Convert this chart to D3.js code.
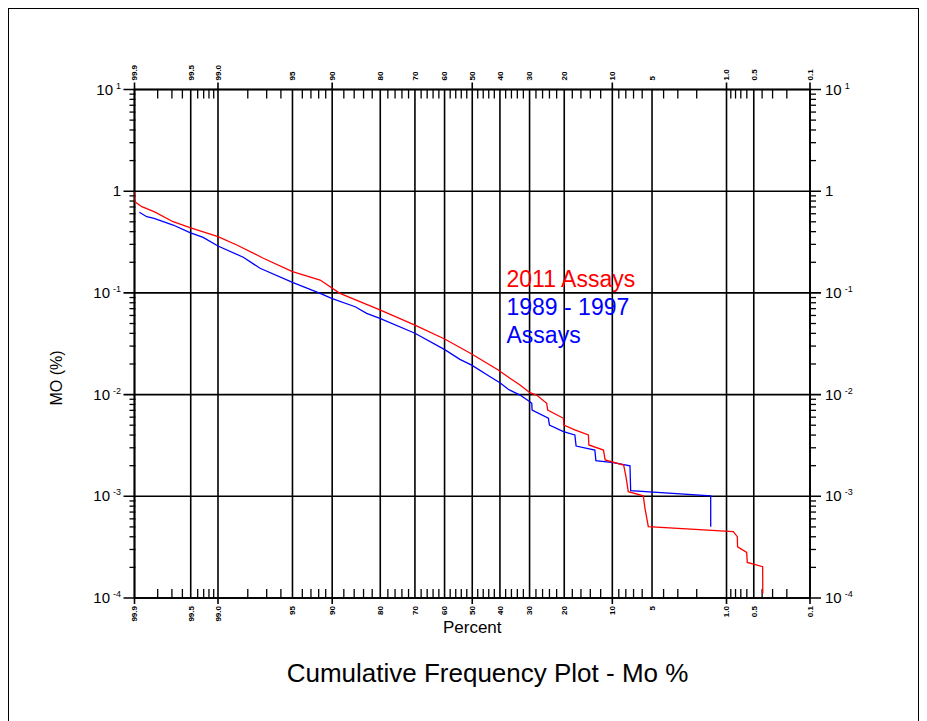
<!DOCTYPE html>
<html>
<head>
<meta charset="utf-8">
<script src="https://cdn.jsdelivr.net/npm/d3@7"></script>
<style>
  html, body { margin: 0; padding: 0; background: #fff; }
  svg { display: block; font-family: "Liberation Sans", Arial, sans-serif; }
</style>
</head>
<body>
<svg id="chart" width="927" height="721"></svg>
<script>
// Cumulative frequency (percent greater than) vs Mo grade, two assay campaigns
const redPct = [99.9, 99.9, 99.875, 99.82, 99.69, 99.51, 99.0, 98.44, 97.2, 95.0,
  91.8, 88.7, 80.1, 70.0, 59.8, 50.2, 40.6, 36.5, 33.1, 29.9,
  27.8, 24.8, 24.5, 20.2, 20.1, 17.4, 14.4, 14.3, 11.5, 11.2,
  8.3, 7.98, 7.67, 5.88, 5.7, 5.36, 0.846, 0.765, 0.76, 0.602,
  0.593, 0.394, 0.393];
const redMo = [0.99, 0.79, 0.704, 0.629, 0.501, 0.438, 0.357, 0.296, 0.219, 0.1616,
  0.1339, 0.099, 0.068, 0.0483, 0.035, 0.0251, 0.01746, 0.01446, 0.01243, 0.01044,
  0.0099, 0.00821, 0.00706, 0.00585, 0.00502, 0.00449, 0.00401, 0.00320, 0.00285, 0.00228,
  0.00203, 0.00156, 0.00111, 0.00101, 0.000762, 0.000502, 0.000449, 0.000401, 0.000319, 0.000281,
  0.000224, 0.000203, 0.000111];

const bluePct = [99.884, 99.855, 99.82, 99.69, 99.51, 99.31, 99.0, 98.19, 97.39, 95.0,
  91.8, 90.1, 85.8, 83.3, 80.1, 70.0, 59.8, 54.5, 50.2, 43.5,
  40.0, 37.1, 33.1, 29.9, 29.3, 29.2, 24.3, 24.0, 20.2, 17.4,
  17.1, 13.1, 12.9, 9.84, 7.45, 7.36, 1.457, 1.456];
const blueMo = [0.620, 0.561, 0.541, 0.465, 0.391, 0.352, 0.289, 0.224, 0.1746, 0.1271,
  0.099, 0.0885, 0.0731, 0.063, 0.0562, 0.0401, 0.0275, 0.0222, 0.0195, 0.0150,
  0.0131, 0.01127, 0.0099, 0.00852, 0.00821, 0.00706, 0.00585, 0.00502, 0.00432, 0.00401,
  0.00312, 0.00285, 0.00224, 0.00214, 0.00199, 0.001135, 0.00101, 0.000502];

const seriesNames = ["2011 Assays", "1989 - 1997", "Assays"];
const seriesColors = ["#ff0000", "#0000ff"];

// Probability axis labels and minor ticks (percent)
const pctMajor = ["99.9", "99.5", "99.0", "95", "90", "80", "70", "60", "50", "40", "30", "20", "10", "5", "1.0", "0.5", "0.1"];
const pctLong = ["99.9", "99.0", "90", "50", "10", "1.0", "0.1"];
const pctMinor = [99.8, 99.7, 99.6, 99.4, 99.3, 99.2, 99.1, 98, 97, 96, 94, 93, 92, 91,
  88, 86, 84, 82, 78, 76, 74, 72, 68, 66, 64, 62, 58, 56, 54, 52, 48, 46, 44, 42,
  38, 36, 34, 32, 28, 26, 24, 22, 18, 16, 14, 12, 9, 8, 7, 6, 4, 3, 2,
  0.9, 0.8, 0.7, 0.6, 0.4, 0.3, 0.2];
// Log axis decades: exponent labels
const decadeExp = [1, 0, -1, -2, -3, -4];

// Inverse standard normal CDF (Acklam)
function probit(p) {
  const a = [-3.969683028665376e+01, 2.209460984245205e+02, -2.759285104469687e+02, 1.383577518672690e+02, -3.066479806614716e+01, 2.506628277459239e+00];
  const b = [-5.447609879822406e+01, 1.615858368580409e+02, -1.556989798598866e+02, 6.680131188771972e+01, -1.328068155288572e+01];
  const c = [-7.784894002430293e-03, -3.223964580411365e-01, -2.400758277161838e+00, -2.549671651908070e+00, 4.374664141464968e+00, 2.938163982698783e+00];
  const d = [7.784695709041462e-03, 3.224671290700398e-01, 2.445134137142996e+00, 3.754408661907416e+00];
  const pl = 0.02425, ph = 1 - pl;
  let q, r;
  if (p < pl) {
    q = Math.sqrt(-2 * Math.log(p));
    return (((((c[0]*q+c[1])*q+c[2])*q+c[3])*q+c[4])*q+c[5]) / ((((d[0]*q+d[1])*q+d[2])*q+d[3])*q+1);
  }
  if (p <= ph) {
    q = p - 0.5; r = q * q;
    return (((((a[0]*r+a[1])*r+a[2])*r+a[3])*r+a[4])*r+a[5])*q / (((((b[0]*r+b[1])*r+b[2])*r+b[3])*r+b[4])*r+1);
  }
  q = Math.sqrt(-2 * Math.log(1 - p));
  return -(((((c[0]*q+c[1])*q+c[2])*q+c[3])*q+c[4])*q+c[5]) / ((((d[0]*q+d[1])*q+d[2])*q+d[3])*q+1);
}
const zOf = pct => probit(1 - pct / 100);

const L = 134.5, R = 810, T = 89.5, B = 598;
const zScale = d3.scaleLinear().domain([zOf(99.9), zOf(0.1)]).range([L, R]);
const x = pct => zScale(zOf(+pct));
const y = d3.scaleLog().domain([1e-4, 10]).range([B, T]);

const svg = d3.select("#chart");

// outer frame
svg.append("rect").attr("x", 8.5).attr("y", 8.5).attr("width", 910).attr("height", 740)
  .attr("fill", "none").attr("stroke", "#000").attr("stroke-width", 1);

const grid = svg.append("g").attr("stroke", "#000").attr("fill", "none");

// vertical probability lines
pctMajor.forEach(p => {
  const long = pctLong.includes(p);
  grid.append("line")
    .attr("x1", x(p)).attr("x2", x(p))
    .attr("y1", long ? T - 7 : T).attr("y2", long ? B + 6 : B)
    .attr("stroke-width", 1.6);
});
// minor probability ticks, inward from top and bottom
pctMinor.forEach(p => {
  grid.append("line").attr("x1", x(p)).attr("x2", x(p)).attr("y1", T).attr("y2", T + 9).attr("stroke-width", 1.3);
  grid.append("line").attr("x1", x(p)).attr("x2", x(p)).attr("y1", B).attr("y2", B - 9).attr("stroke-width", 1.3);
});

// horizontal decade lines
decadeExp.forEach(e => {
  grid.append("line")
    .attr("x1", L - 11).attr("x2", R + 11)
    .attr("y1", y(Math.pow(10, e))).attr("y2", y(Math.pow(10, e)))
    .attr("stroke-width", 1.6);
});
// minor log ticks, outward on both sides
const minorLog = [];
decadeExp.slice(1).forEach(e => { for (let k = 2; k <= 9; k++) minorLog.push(k * Math.pow(10, e)); });
minorLog.forEach(v => {
  grid.append("line").attr("x1", L - 5).attr("x2", L + 1).attr("y1", y(v)).attr("y2", y(v)).attr("stroke-width", 1.3);
  grid.append("line").attr("x1", R + 6).attr("x2", R - 1).attr("y1", y(v)).attr("y2", y(v)).attr("stroke-width", 1.3);
});

// plot frame
grid.append("rect").attr("x", L).attr("y", T).attr("width", R - L).attr("height", B - T)
  .attr("stroke-width", 1.8);

// probability labels (rotated)
const labelG = svg.append("g").attr("font-size", 8).attr("font-weight", "bold").attr("fill", "#000");
pctMajor.forEach(p => {
  labelG.append("text")
    .attr("transform", `translate(${x(p)},${T - 9}) rotate(-90)`)
    .attr("text-anchor", "start").attr("dy", "0.35em").text(p);
  labelG.append("text")
    .attr("transform", `translate(${x(p)},${B + 8}) rotate(-90)`)
    .attr("text-anchor", "end").attr("dy", "0.35em").text(p);
});

// decade labels
function decadeLabel(g, e, xPos, anchor) {
  const t = g.append("text").attr("x", xPos).attr("y", y(Math.pow(10, e)) + 5)
    .attr("text-anchor", anchor).attr("font-size", 15);
  if (e === 0) { t.text("1"); return; }
  t.append("tspan").text("10");
  t.append("tspan").attr("font-size", 9).attr("dx", 3).attr("dy", -6).text(e);
}
const yl = svg.append("g").attr("fill", "#000");
decadeExp.forEach(e => decadeLabel(yl, e, 121, "end"));
decadeExp.forEach(e => decadeLabel(yl, e, 825, "start"));

// axis titles
svg.append("text").attr("x", x("50")).attr("y", 633).attr("text-anchor", "middle")
  .attr("font-size", 17).text("Percent");
svg.append("text").attr("transform", "translate(62,378) rotate(-90)")
  .attr("text-anchor", "middle").attr("font-size", 16).text("MO (%)");
svg.append("text").attr("x", 487.5).attr("y", 682).attr("text-anchor", "middle")
  .attr("font-size", 26).text("Cumulative Frequency Plot - Mo %");

// data lines
const clip = svg.append("clipPath").attr("id", "plotClip").append("rect")
  .attr("x", L).attr("y", T).attr("width", R - L).attr("height", B - T);
const line = d3.line().x(d => x(d[0])).y(d => y(d[1]));
const plotG = svg.append("g").attr("clip-path", "url(#plotClip)");
plotG.append("path").datum(d3.zip(bluePct, blueMo)).attr("d", line)
  .attr("fill", "none").attr("stroke", seriesColors[1]).attr("stroke-width", 1.3);
plotG.append("path").datum(d3.zip(redPct, redMo)).attr("d", line)
  .attr("fill", "none").attr("stroke", seriesColors[0]).attr("stroke-width", 1.3);

// legend
const lg = svg.append("g").attr("font-size", 23);
lg.append("text").attr("x", 506.5).attr("y", 287).attr("fill", seriesColors[0]).text(seriesNames[0]);
lg.append("text").attr("x", 506.5).attr("y", 315).attr("fill", seriesColors[1]).text(seriesNames[1]);
lg.append("text").attr("x", 506.5).attr("y", 343).attr("fill", seriesColors[1]).text(seriesNames[2]);
</script>
</body>
</html>
